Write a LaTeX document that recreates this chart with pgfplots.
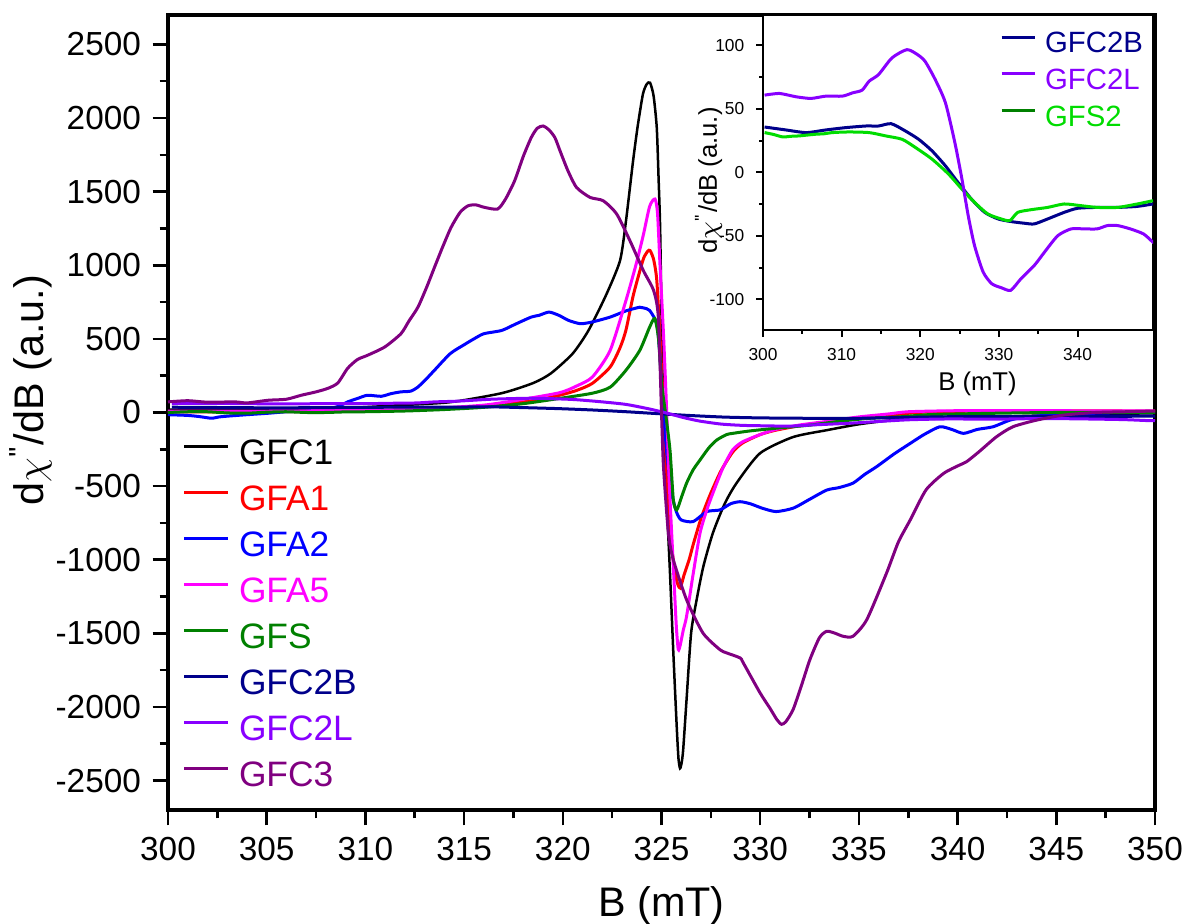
\documentclass[border=0pt]{standalone}
\usepackage{pgfplots}
\usepackage{pgfplotstable}
\pgfplotsset{compat=1.18}
\usepackage{fontspec}
\setmainfont{Liberation Sans}
\definecolor{cGFC1}{RGB}{0,0,0}
\definecolor{cGFA1}{RGB}{255,0,0}
\definecolor{cGFA2}{RGB}{0,0,255}
\definecolor{cGFA5}{RGB}{255,0,255}
\definecolor{cGFS}{RGB}{0,128,0}
\definecolor{cGFC2B}{RGB}{0,0,139}
\definecolor{cGFC2L}{RGB}{136,0,255}
\definecolor{cGFC3}{RGB}{128,0,128}
\definecolor{cGFS2}{RGB}{0,220,0}

\pgfplotstableread{
B v
300.2 60.9
302.1 62.2
304.2 59.6
306.1 58.3
308.0 60.1
310.1 60.1
311.4 62.7
312.6 64.8
313.5 71.9
314.7 77.1
316.4 90.2
318.3 96.7
319.6 93.0
320.6 87.6
321.9 73.2
323.2 54.9
324.4 23.5
325.3 -5.2
326.1 -34
326.9 -57.5
328.0 -78.4
329.1 -87.6
330.3 -90.7
331.5 -92.8
332.8 -83.7
334.5 -73.2
335.8 -62.7
337.5 -49.7
339.2 -44.4
340.8 -44.4
342.5 -44.4
343.8 -41.8
345.1 -41.8
346.7 -44.4
348.4 -48.4
349.6 -54.9
350.0 -56
}\GFCtwoL

\pgfplotstableread{
B v
300.2 35.8
302.9 33.5
305.5 31.4
308.0 33.5
310.5 35.3
313.1 36.6
314.7 36.6
316.3 38.4
318.1 32.7
319.8 26.1
321.5 17.0
323.2 5.2
324.8 -7.8
326.5 -20.9
328.2 -31.4
329.9 -36.6
331.6 -38.7
333.3 -40
334.5 -40.5
336.2 -36.6
338.3 -31.4
340.0 -28.2
342.5 -27.5
345.1 -27.5
347.6 -26.7
349.6 -24.8
350.0 -24.5
}\GFCtwoB

\pgfplotstableread{
B v
300.2 31.4
301.3 30.0
302.5 28
303.6 28.5
304.6 28.8
305.7 29.5
306.7 30.1
307.8 30.5
308.8 31.4
310.9 31.9
313.5 31.4
315.6 28.8
317.7 26.1
319.4 19.6
321.5 10.5
323.6 -1.3
325.3 -13.1
326.9 -23.5
328.6 -32.7
330.3 -36.6
331.4 -37.9
332.4 -31.4
334.1 -29.3
336.2 -27.5
338.3 -24.8
340.4 -26.1
342.5 -27.5
345.1 -27.5
347.6 -24.8
349.6 -22.2
}\GFStwo

\begin{document}
\begin{tikzpicture}
\useasboundingbox (0pt,0pt) rectangle (355.8pt,277.2pt);
\begin{axis}[
  at={(50.4pt,34.2pt)}, anchor=south west,
  scale only axis, width=296.1pt, height=238.5pt,
  xmin=300, xmax=350, ymin=-2700, ymax=2700,
  xtick={300,305,...,350}, ytick={-2500,-2000,...,2500},
  minor x tick num=1, minor y tick num=1,
  tick align=outside, xtick pos=left, ytick pos=left,
  major tick length=4.6pt, minor tick length=2.5pt,
  every tick/.style={black, line width=0.75pt},
  axis line style={line width=1pt},
  /pgf/number format/assume math mode=true,
  /pgf/number format/1000 sep={},
  tick label style={font=\fontsize{10}{12}\selectfont},
  xlabel={B (mT)},
  ylabel={d$\chi$\textsuperscript{\textquotesingle\textquotesingle}/dB (a.u.)},
  xlabel style={at={(axis description cs:0.5,-0.095)}, anchor=north, inner sep=0pt, font=\fontsize{12.4}{14}\selectfont},
  ylabel style={at={(axis description cs:-0.1165,0.528)}, anchor=south, inner sep=0pt, font=\fontsize{12.4}{14}\selectfont},
  legend style={at={(axis description cs:0.0152,0.468)}, anchor=north west, draw=none, fill=none,
    inner sep=0pt, outer sep=0pt, row sep=3.8pt,
    nodes={inner sep=0pt, text height=8pt, text depth=2pt, font=\fontsize{10.6}{12}\selectfont},
    /tikz/every odd column/.append style={column sep=3pt}},
  legend cell align=left,
  legend image code/.code={\draw[#1] (0pt,2.5pt) -- (12.9pt,2.5pt);},
  every axis plot/.append style={line width=0.9pt, smooth, tension=0.4},
]
\addlegendimage{cGFC1, line width=0.9pt}\addlegendentry[text=cGFC1]{GFC1}
\addlegendimage{cGFA1, line width=0.9pt}\addlegendentry[text=cGFA1]{GFA1}
\addlegendimage{cGFA2, line width=0.9pt}\addlegendentry[text=cGFA2]{GFA2}
\addlegendimage{cGFA5, line width=0.9pt}\addlegendentry[text=cGFA5]{GFA5}
\addlegendimage{cGFS, line width=0.9pt}\addlegendentry[text=cGFS]{GFS}
\addlegendimage{cGFC2B, line width=0.9pt}\addlegendentry[text=cGFC2B]{GFC2B}
\addlegendimage{cGFC2L, line width=0.9pt}\addlegendentry[text=cGFC2L]{GFC2L}
\addlegendimage{cGFC3, line width=0.9pt}\addlegendentry[text=cGFC3]{GFC3}

% GFC1
\addplot[cGFC1, line width=0.75pt, forget plot] table {
300 20
303 18
306 22
309 30
311.8 50
314.3 70
316.9 131
318.5 200
319.4 266
320.5 400
321.3 557
322.2 800
322.9 1032
323.2 1300
323.56 1709
323.8 1950
324.06 2163
324.25 2230
324.42 2240
324.6 2150
324.76 1935
324.85 1600
324.93 1257
325.01 580
325.1 -52
325.26 -594
325.43 -1090
325.6 -1633
325.77 -2130
325.86 -2350
325.94 -2417
326.02 -2380
326.1 -2288
326.27 -1949
326.5 -1498
326.78 -1272
327.12 -1046
327.6 -820
328.2 -620
328.8 -480
329.99 -277
331.66 -167
333.38 -120
335 -80
336.7 -52
338 -45
340.1 -39
343 -25
346 -15
350 -5
};
% GFA1
\addplot[cGFA1, forget plot] table {
300 5
305 5
310 10
313 20
316 40
318.6 83
319.86 118
320.7 150
321.5 198
322.4 309
322.9 440
323.2 560
323.56 790
323.9 960
324.1 1050
324.3 1095
324.42 1100
324.6 1040
324.76 900
324.93 500
325.0 300
325.12 0
325.3 -500
325.5 -900
325.75 -1130
325.94 -1192
326.15 -1100
326.4 -1000
326.6 -900
327.0 -720
327.46 -560
328 -400
328.6 -270
329.1 -208
330 -150
330.8 -120
332 -90
333.4 -65
335 -40
336.5 -20
338 0
340 8
345 10
350 10
};
% GFA2
\addplot[cGFA2, forget plot] table {
300 -15
301 -20
301.6 -28
302.2 -39
302.6 -30
303 -25
304 -15
305.1 -5
306 5
307 10
308.5 36
309.1 72
309.6 95
310.1 117
310.8 110
311.3 128
311.8 140
312.3 145
312.66 173
313.1 230
313.5 287
314.3 400
315 460
315.5 500
316 535
316.9 557
317.6 600
318.4 648
318.8 660
319.3 682
319.8 660
320.3 625
320.9 603
321.5 615
322.4 648
323.2 690
323.9 715
324.1 710
324.4 693
324.76 603
324.9 422
325.0 200
325.1 0
325.25 -250
325.43 -480
325.6 -600
325.77 -680
326.0 -730
326.6 -741
327.3 -673
327.96 -662
328.5 -620
328.98 -606
329.5 -620
330.1 -650
330.8 -673
331.67 -650
332.5 -590
333.37 -527
334 -510
334.7 -480
335.3 -420
335.9 -368
336.8 -280
337.6 -210
338.3 -150
339.1 -97
339.7 -115
340.3 -142
341 -115
341.8 -97
342.65 -52
343.5 -30
345 -15
347 -5
350 0
};
% GFA5
\addplot[cGFA5, forget plot] table {
300 10
305 10
310 15
313 25
316 50
318 90
319.86 135
320.7 180
321.5 241
322.4 422
323.2 761
323.7 1000
324.07 1200
324.4 1400
324.67 1450
324.8 1350
324.93 986
325.1 535
325.25 50
325.4 -500
325.6 -1046
325.75 -1450
325.85 -1610
325.95 -1580
326.1 -1480
326.27 -1385
326.6 -1100
326.95 -820
327.3 -660
327.6 -549
328.1 -380
328.6 -255
329.1 -200
330 -150
330.8 -115
332 -85
333.4 -60
335 -30
336.5 -10
337.5 5
340 12
345 12
350 10
};
% GFS
\addplot[cGFS, forget plot] table {
300 0
301 5
302 5
303 -3
304 -5
305 2
306 5
307 0
308 0
309 4
310 5
312 10
314 20
316 35
318 60
319.86 96
321.5 131
322.4 172
323.2 287
323.9 422
324.4 580
324.66 638
324.85 500
325.0 200
325.2 0
325.43 -255
325.6 -594
325.77 -662
326.0 -580
326.27 -480
326.6 -390
326.95 -323
327.4 -240
327.8 -187
328.3 -150
328.6 -142
329.5 -125
330.8 -107
332.5 -86
334 -60
335.5 -40
337 -30
338.5 -15
340 -10
342 -5
345 0
350 0
};
% GFC2B
\addplot[cGFC2B, forget plot] table[x=B, y=v] {\GFCtwoB};
% GFC2L
\addplot[cGFC2L, forget plot] table[x=B, y=v] {\GFCtwoL};
% GFC3
\addplot[cGFC3, forget plot] table {
300 72
301 80
302 70
303.4 72
304 65
305.07 83
306 90
306.75 117
307.5 140
308.1 164
308.6 200
309.1 300
309.6 360
310.1 388
310.98 445
311.8 535
312.2 620
312.66 715
313.1 850
313.5 986
313.9 1120
314.34 1257
314.8 1360
315.2 1404
315.6 1410
316.04 1393
316.7 1382
317.1 1450
317.56 1574
318 1740
318.4 1867
318.7 1930
319.0 1946
319.3 1920
319.6 1867
319.86 1777
320.26 1642
320.7 1528
321.38 1461
322.05 1438
322.73 1348
323.4 1167
324.08 964
324.6 829
324.84 648
325.0 0
325.1 -368
325.35 -820
325.6 -1001
326.27 -1272
327.1 -1498
327.96 -1611
328.3 -1633
328.98 -1667
329.14 -1700
329.99 -1904
330.5 -2010
330.84 -2085
331.08 -2118
331.3 -2100
331.67 -2017
332.1 -1850
332.52 -1678
333 -1530
333.37 -1486
333.8 -1500
334.2 -1520
334.7 -1520
335.4 -1407
336.4 -1091
337.0 -880
337.6 -730
338.4 -526
339.3 -413
340.1 -357
340.46 -334
341.1 -265
341.97 -165
342.8 -97
344 -52
345.35 -18
347 0
348.5 5
350 10
};
\end{axis}

\begin{axis}[
  at={(228.9pt,178.2pt)}, anchor=south west,
  scale only axis, width=117pt, height=94.5pt,
  xmin=300, xmax=349.6, ymin=-124, ymax=124,
  xtick={300,310,...,340}, ytick={-100,-50,...,100},
  minor x tick num=1, minor y tick num=1,
  tick align=outside, xtick pos=left, ytick pos=left,
  major tick length=2.1pt, minor tick length=1.1pt,
  every tick/.style={black, line width=0.6pt},
  axis line style={line width=0.8pt},
  axis background/.style={fill=white},
  /pgf/number format/assume math mode=true,
  /pgf/number format/1000 sep={},
  tick label style={font=\fontsize{5.2}{6}\selectfont},
  xlabel={B (mT)},
  ylabel={d$\chi$\textsuperscript{\textquotesingle\textquotesingle}/dB (a.u.)},
  xlabel style={at={(axis description cs:0.55,-0.13)}, anchor=north, inner sep=0pt, font=\fontsize{7.7}{9}\selectfont},
  ylabel style={at={(axis description cs:-0.103,0.475)}, anchor=south, inner sep=0pt, font=\fontsize{7.7}{9}\selectfont},
  legend style={at={(axis description cs:0.608,0.949)}, anchor=north west, draw=none, fill=none,
    inner sep=0pt, outer sep=0pt, row sep=3pt,
    nodes={inner sep=0pt, text height=6.5pt, text depth=1.5pt, font=\fontsize{8.8}{10}\selectfont},
    /tikz/every odd column/.append style={column sep=2.7pt}},
  legend cell align=left,
  legend image code/.code={\draw[#1] (0pt,2.2pt) -- (9.9pt,2.2pt);},
  every axis plot/.append style={line width=0.9pt, smooth, tension=0.4},
]
\addlegendimage{cGFC2B, line width=0.9pt}\addlegendentry[text=cGFC2B]{GFC2B}
\addlegendimage{cGFC2L, line width=0.9pt}\addlegendentry[text=cGFC2L]{GFC2L}
\addlegendimage{cGFS, line width=0.9pt}\addlegendentry[text=cGFS2]{GFS2}
\addplot[cGFC2B, forget plot] table[x=B, y=v] {\GFCtwoB};
\addplot[cGFS2, forget plot] table[x=B, y=v] {\GFStwo};
\addplot[cGFC2L, forget plot] table[x=B, y=v] {\GFCtwoL};
\end{axis}
\end{tikzpicture}
\end{document}
